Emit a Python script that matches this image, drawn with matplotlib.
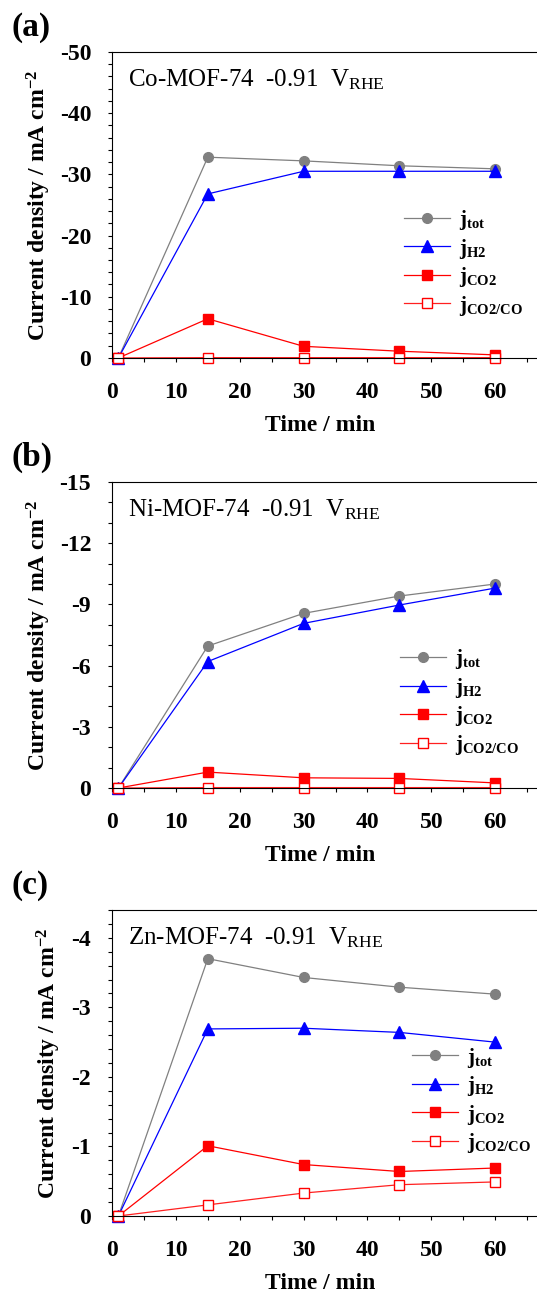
import matplotlib
matplotlib.use('Agg')
import matplotlib.pyplot as plt
from matplotlib.ticker import MultipleLocator

plt.rcParams['font.family'] = ['Liberation Serif', 'DejaVu Serif']
plt.rcParams['mathtext.fontset'] = 'custom'
plt.rcParams['mathtext.rm'] = 'Liberation Serif'
plt.rcParams['mathtext.bf'] = 'Liberation Serif:bold'
plt.rcParams['mathtext.it'] = 'Liberation Serif:italic'

time = [1, 15, 30, 45, 60]

# (a) Co-MOF-74
co_tot = [0, -32.8, -32.2, -31.4, -30.9]
co_h2 = [0, -26.8, -30.5, -30.5, -30.5]
co_co2 = [0, -6.4, -1.9, -1.1, -0.5]
co_co2co = [0, -0.05, -0.05, -0.05, -0.05]

# (b) Ni-MOF-74
ni_tot = [0, -6.96, -8.56, -9.41, -10.0]
ni_h2 = [0, -6.2, -8.07, -8.97, -9.8]
ni_co2 = [0, -0.78, -0.5, -0.47, -0.25]
ni_co2co = [0, -0.02, -0.02, -0.02, -0.02]

# (c) Zn-MOF-74
zn_tot = [0, -3.70, -3.43, -3.29, -3.19]
zn_h2 = [0, -2.69, -2.70, -2.64, -2.50]
zn_co2 = [0, -1.01, -0.74, -0.64, -0.69]
zn_co2co = [0, -0.16, -0.33, -0.45, -0.49]

panels = [
  ('(a)', 'Co-MOF-74', co_tot, co_h2, co_co2, co_co2co, -50, 10, 2, [0.653, 0.49], -0.132),
  ('(b)', 'Ni-MOF-74', ni_tot, ni_h2, ni_co2, ni_co2co, -15, 3, 1, [0.644, 0.46], -0.132),
  ('(c)', 'Zn-MOF-74', zn_tot, zn_h2, zn_co2, zn_co2co, -4.4, 1, 0.2, [0.671, 0.557], -0.11),
]
labels = [r'$\mathbf{j_{tot}}$', r'$\mathbf{j_{H2}}$', r'$\mathbf{j_{CO2}}$', r'$\mathbf{j_{CO2/CO}}$']

def main():
  fig = plt.figure(figsize=(5.37, 12.95), dpi=100)
  bottoms = [0.7236, 0.3915, 0.0610]
  for (tag, name, tot, h2, co2, co2co, ymin, major, minor, lpos, ylx), b in zip(panels, bottoms):
    ax = fig.add_axes([0.2086, b, 0.8324, 0.2363])
    ax.plot(time, tot, '-o', color='#808080', ms=7, lw=0.9, clip_on=False, label=labels[0])
    ax.plot(time, h2, '-^', color='#0000ff', ms=8, lw=0.9, clip_on=False, label=labels[1])
    ax.plot(time, co2, '-s', color='#ff0000', ms=7, lw=0.9, clip_on=False, label=labels[2])
    ax.plot(time, co2co, '-s', color='#ff2020', mfc='white', mec='#ff0000', ms=7, lw=0.9,
            clip_on=False, label=labels[3])
    ax.set_xlim(0, 70)
    ax.set_ylim(0, ymin)
    ax.xaxis.set_minor_locator(MultipleLocator(5))
    ax.yaxis.set_major_locator(MultipleLocator(major))
    ax.yaxis.set_minor_locator(MultipleLocator(minor))
    ax.set_xticks(range(0, 61, 10))
    ax.tick_params(which='both', direction='out', length=3, width=0.8, labelsize=17)
    ax.tick_params(axis='x', pad=14)
    ax.tick_params(axis='y', pad=12)
    for lab in ax.get_xticklabels() + ax.get_yticklabels():
      lab.set_fontweight('bold')
    ax.yaxis.set_major_formatter(plt.FuncFormatter(lambda v, p: '%g' % v if abs(v) > 1e-9 else '0'))
    ax.spines['right'].set_visible(False)
    for s in ['top', 'left', 'bottom']:
      ax.spines[s].set_linewidth(0.8)
    ax.set_xlabel('Time / min', fontsize=17, fontweight='bold')
    ax.xaxis.set_label_coords(0.465, -0.185)
    ax.set_ylabel(r'Current density / mA cm$^{\mathbf{-2}}$', fontsize=17, fontweight='bold')
    ax.yaxis.set_label_coords(ylx, 0.5)
    ax.text(0.036, 0.95, name + r'  -0.91  V$_{\mathrm{RHE}}$', transform=ax.transAxes,
            fontsize=18, va='top', ha='left')
    ax.text(-0.224, 1.13, tag, transform=ax.transAxes, fontsize=24, fontweight='bold',
            va='top', ha='left')
    ax.legend(loc='upper left', bbox_to_anchor=lpos, frameon=False, fontsize=15,
              numpoints=1, handlelength=2.2, handletextpad=0.45, labelspacing=0.22,
              borderpad=0, borderaxespad=0)
  fig.savefig('out.png', dpi=100)

if __name__ == "__main__":
  main()
